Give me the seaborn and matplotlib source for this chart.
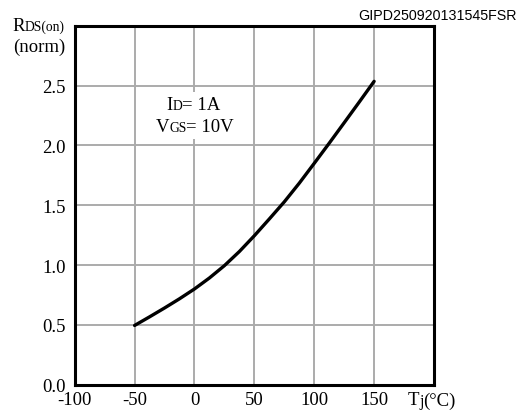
import matplotlib
matplotlib.use("Agg")
import matplotlib.pyplot as plt
import numpy as np
import pandas as pd
import seaborn as sns
from matplotlib.patches import Rectangle

# ---- data ----
temps = [-50, -37.5, -25, -12.5, 0, 12.5, 25, 37.5, 50, 62.5, 75, 87.5,
         100, 112.5, 125, 137.5, 150]
rds_norm = [0.495, 0.567, 0.641, 0.718, 0.800, 0.892, 0.995, 1.113, 1.245,
            1.385, 1.528, 1.684, 1.850, 2.018, 2.189, 2.361, 2.535]
x_ticks = [-100, -50, 0, 50, 100, 150, 200]
x_tick_labels = ["-100", "-50", "0", "50", "100", "150", ""]
y_ticks = [0.0, 0.5, 1.0, 1.5, 2.0, 2.5, 3.0]
y_tick_labels = ["0.0", "0.5", "1.0", "1.5", "2.0", "2.5", ""]
code_text = "GIPD250920131545FSR"

W, H = 528, 414
sns.set_theme(style="white")
plt.rcParams["font.family"] = ["Liberation Serif", "DejaVu Serif"]

BIG = 13.5
SMALL = 9.8

fig = plt.figure(figsize=(W / 100, H / 100), dpi=100)
fig.patch.set_facecolor("white")
left, right, top, bottom = 74.7, 434.0, 26.7, 385.7
ax = fig.add_axes([left / W, 1 - bottom / H, (right - left) / W, (bottom - top) / H])
ax.set_facecolor("white")

df = pd.DataFrame({"Tj": temps, "R": rds_norm})
sns.lineplot(data=df, x="Tj", y="R", ax=ax, color="black", linewidth=2.4,
             zorder=3, solid_joinstyle="round", solid_capstyle="round")

ax.set_xlim(-100, 200)
ax.set_ylim(0, 3.0)
ax.set_xticks(x_ticks)
ax.set_xticklabels(x_tick_labels)
ax.set_yticks(y_ticks)
ax.set_yticklabels(y_tick_labels)
ax.grid(True, color="#ababab", linewidth=1.4)
ax.set_axisbelow(True)
ax.tick_params(axis="both", length=0, labelsize=BIG, colors="black")
ax.tick_params(axis="y", pad=6.5)
ax.tick_params(axis="x", pad=4.5)
ax.set_xlabel("")
ax.set_ylabel("")
for s in ax.spines.values():
    s.set_visible(True)
    s.set_color("black")
    s.set_linewidth(2.2)

renderer = fig.canvas.get_renderer()


def rich(x_px, y_px, parts, zorder=4):
    x = x_px
    for s, size, dy in parts:
        t = fig.text(x / W, 1 - (y_px + dy) / H, s, fontsize=size, ha="left",
                     va="baseline", color="black", zorder=zorder)
        bb = t.get_window_extent(renderer)
        x += bb.width


# white box behind the condition note
fig.add_artist(Rectangle((150 / W, 1 - 140 / H), 88 / W, 47 / H,
                         transform=fig.transFigure, facecolor="white",
                         edgecolor="none", zorder=1))

rich(12.5, 30.7, [("R", BIG, 0), ("DS(on)", SMALL, 0)])
rich(13.0, 51.7, [("(norm)", BIG, 0)])
rich(166.0, 109.5, [("I", BIG, 0), ("D", SMALL, 0), ("= 1A", BIG, 0)])
rich(155.5, 132.0, [("V", BIG, 0), ("GS", SMALL, 0), ("= 10V", BIG, 0)])
rich(407.5, 405.5, [("T", BIG, 0), ("j", SMALL + 1.5, 0.5), ("(°C)", BIG, 0)])

fig.text(517 / W, 1 - 20 / H, code_text, fontsize=10.3, ha="right",
         va="baseline", family="Liberation Sans", color="black")

fig.savefig("out.png", dpi=100, facecolor="white")
